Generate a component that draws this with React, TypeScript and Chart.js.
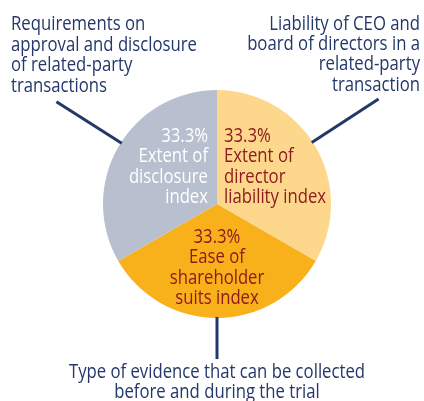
import React, { useEffect, useRef } from "react";
import { Chart, registerables } from "chart.js";

Chart.register(...registerables);

const categories = [
  "Extent of director liability index",
  "Ease of shareholder suits index",
  "Extent of disclosure index",
];
const shares = [33.3, 33.3, 33.3];
const sliceColors = ["#FDD88C", "#F8B01B", "#B8BFCF"];
const innerLabels = [
  ["33.3%", "Extent of", "director", "liability index"],
  ["33.3%", "Ease of", "shareholder", "suits index"],
  ["33.3%", "Extent of", "disclosure", "index"],
];
const outerLabels = [
  ["Liability of CEO and", "board of directors in a", "related-party", "transaction"],
  ["Type of evidence that can be collected", "before and during the trial"],
  ["Requirements on", "approval and disclosure", "of related-party", "transactions"],
];

const FONT = '"Open Sans", "Noto Sans", sans-serif';
const NAVY = "#23386A";
const RED = "#8E1B20";

function drawText(ctx: CanvasRenderingContext2D, t: string, x: number, y: number, align: CanvasTextAlign, sx: number) {
  ctx.save();
  ctx.translate(x, y);
  ctx.scale(sx, 1);
  ctx.textAlign = align;
  ctx.fillText(t, 0, 0);
  ctx.restore();
}

const labelPlugin = {
  id: "labelPlugin",
  afterDraw(chart: any) {
    const ctx = chart.ctx as CanvasRenderingContext2D;
    const meta = chart.getDatasetMeta(0);
    const arcs = meta.data as any[];
    if (!arcs.length) return;
    const cx = arcs[0].x;
    const cy = arcs[0].y;
    const r = arcs[0].outerRadius;
    ctx.save();
    const lineOuter = [1.69, 1.36, 1.67];
    const angleShift = [-3, 0, 2.5];
    ctx.strokeStyle = NAVY;
    ctx.lineWidth = 3;
    arcs.forEach((a: any, i: number) => {
      const mid = (a.startAngle + a.endAngle) / 2 + (angleShift[i] * Math.PI) / 180;
      ctx.beginPath();
      ctx.moveTo(cx + Math.cos(mid) * (r - 1), cy + Math.sin(mid) * (r - 1));
      ctx.lineTo(cx + Math.cos(mid) * r * lineOuter[i], cy + Math.sin(mid) * r * lineOuter[i]);
      ctx.stroke();
    });
    ctx.font = `20px ${FONT}`;
    ctx.textBaseline = "alphabetic";
    const sx = 186 / ctx.measureText("approval and disclosure").width;
    const lh = 20.3;
    ctx.fillStyle = RED;
    innerLabels[0].forEach((t, k) => drawText(ctx, t, cx + 7, cy - 62 + k * lh, "left", sx));
    innerLabels[1].forEach((t, k) => drawText(ctx, t, cx, cy + 39 + k * lh, "center", sx));
    ctx.fillStyle = "#FFFFFF";
    innerLabels[2].forEach((t, k) => drawText(ctx, t, cx - 9, cy - 62 + k * lh, "right", sx));
    ctx.fillStyle = NAVY;
    outerLabels[0].forEach((t, k) => drawText(ctx, t, 420, 30 + k * 20.2, "right", sx));
    outerLabels[2].forEach((t, k) => drawText(ctx, t, 11, 30 + k * 20.7, "left", sx));
    outerLabels[1].forEach((t, k) => drawText(ctx, t, cx, 378 + k * 19.5, "center", sx));
    ctx.restore();
  },
};

export default function App() {
  const ref = useRef<HTMLCanvasElement | null>(null);
  useEffect(() => {
    if (!ref.current) return;
    const chart = new Chart(ref.current, {
      type: "pie",
      data: {
        labels: categories,
        datasets: [
          {
            data: shares,
            backgroundColor: sliceColors,
            borderWidth: 0,
          },
        ],
      },
      options: {
        animation: false,
        responsive: false,
        layout: { padding: { top: 90, bottom: 83, left: 103, right: 93 } },
        plugins: { legend: { display: false }, tooltip: { enabled: false } },
      },
      plugins: [labelPlugin],
    });
    return () => chart.destroy();
  }, []);
  return (
    <div style={{ position: "fixed", left: 0, top: 0, width: 424, height: 401, background: "#fff" }}>
      <canvas ref={ref} width={424} height={401} style={{ display: "block" }} />
    </div>
  );
}
